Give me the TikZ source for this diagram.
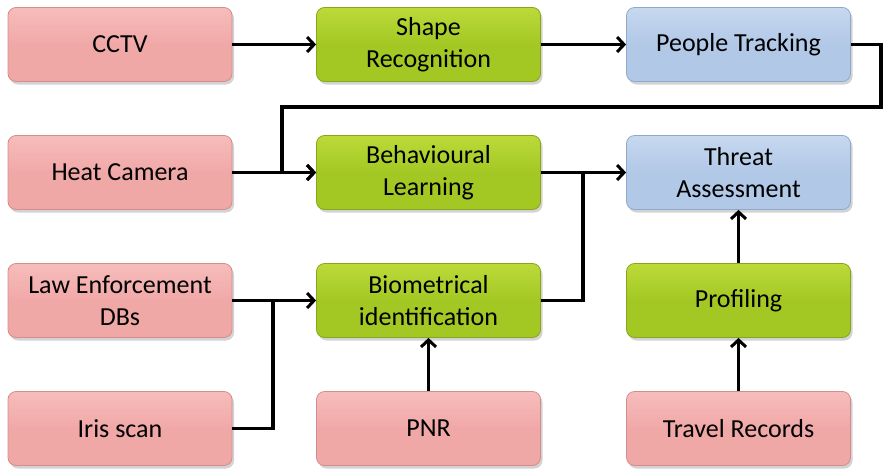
\documentclass[tikz,border=0pt]{standalone}
\usepackage{fontspec}
\setmainfont{Carlito}
\usetikzlibrary{arrows.meta,shadows}
\definecolor{pinkT}{HTML}{F6BDBC}
\definecolor{pinkB}{HTML}{F0A8A7}
\definecolor{pinkD}{HTML}{D38D8C}
\definecolor{greenT}{HTML}{BCDA3A}
\definecolor{greenB}{HTML}{A3C823}
\definecolor{greenD}{HTML}{87A618}
\definecolor{blueT}{HTML}{C7D8EF}
\definecolor{blueB}{HTML}{B1C8E7}
\definecolor{blueD}{HTML}{8FA9CE}
\tikzset{
  box/.style={rounded corners=8pt, minimum width=224pt, minimum height=74pt,
    inner sep=0pt, align=center, line width=0.8pt,
    font=\fontsize{26}{32.5}\selectfont,
    drop shadow={opacity=0.35, shadow xshift=2pt, shadow yshift=-3pt}},
  pinkbox/.style={box, draw=pinkD, top color=pinkT, bottom color=pinkB, middle color=pinkB},
  greenbox/.style={box, draw=greenD, top color=greenT, bottom color=greenB, middle color=greenB},
  bluebox/.style={box, draw=blueD, top color=blueT, bottom color=blueB, middle color=blueB},
  wire/.style={line width=3.2pt, black},
  conn/.style={wire, -{Straight Barb[length=7pt,width=15pt,line width=3pt]}}
}
\begin{document}
\begin{tikzpicture}[x=1pt,y=-1pt]
\useasboundingbox (0,0) rectangle (883,472);
\node[pinkbox] (cctv) at (120,44.5) {CCTV};
\node[greenbox] (shape) at (428.5,44.5) {Shape\\Recognition};
\node[bluebox] (track) at (738.5,44.5) {People Tracking};
\node[pinkbox] (heat) at (120,172.5) {Heat Camera};
\node[greenbox] (behav) at (428.5,172.5) {Behavioural\\Learning};
\node[bluebox] (threat) at (738.5,172.5) {Threat\\Assessment};
\node[pinkbox] (law) at (120,300.5) {Law Enforcement\\DBs};
\node[greenbox] (bio) at (428.5,300.5) {Biometrical\\identification};
\node[greenbox] (prof) at (738.5,300.5) {Profiling};
\node[pinkbox] (iris) at (120,428.5) {Iris scan};
\node[pinkbox] (pnr) at (428.5,428.5) {PNR};
\node[pinkbox] (travel) at (738.5,428.5) {Travel Records};
\coordinate (c1) at (881,107);
\coordinate (c2) at (282,107);
\coordinate (j1) at (583,0);
\coordinate (j2) at (273,0);
\draw[conn] (cctv) -- (shape);
\draw[conn] (shape) -- (track);
\draw[conn] (track.east) -- (track.east -| c1) -- (c1) -- (c2) -- (c2 |- behav.west) -- (behav.west);
\draw[conn] (heat) -- (behav);
\draw[conn] (behav) -- (threat);
\draw[wire] (bio.east) -| (j1 |- behav.east);
\draw[conn] (law) -- (bio);
\draw[wire] (iris.east) -| (j2 |- law.east);
\draw[conn] (pnr) -- (bio);
\draw[conn] (prof) -- (threat);
\draw[conn] (travel) -- (prof);
\end{tikzpicture}
\end{document}
